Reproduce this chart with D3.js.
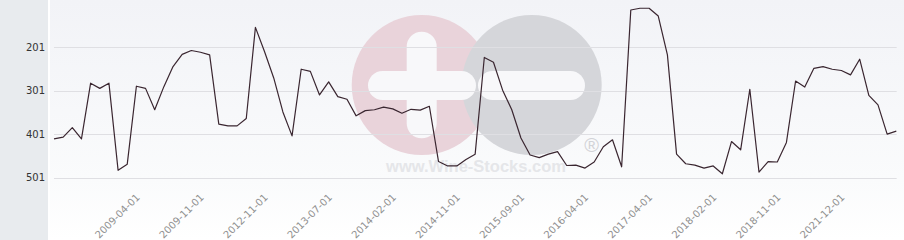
<!DOCTYPE html>
<html>
<head>
<meta charset="utf-8">
<title>rank chart</title>
<style>
    body { margin: 0; background: #fff; }
    svg text { font-family: "DejaVu Sans", sans-serif; }
</style>
</head>
<body>
<div class="chart-container"></div>
<script src="https://cdn.jsdelivr.net/npm/d3@7"></script>
<script>
    // rank values, one per period (lower rank is drawn higher)
    var ranks = [
        412, 408, 386, 412, 284, 296, 284, 484, 470, 291,
        296, 345, 292, 246, 218, 209, 213, 219, 378, 382,
        382, 365, 156, 212, 272, 350, 405, 252, 257, 311,
        281, 315, 321, 359, 347, 345, 339, 343, 353, 344,
        346, 337, 464, 474, 474, 459, 447, 225, 236, 300,
        345, 410, 449, 455, 447, 441, 473, 472, 479, 465,
        430, 414, 476, 116, 112, 112, 130, 219, 447, 469,
        472, 479, 474, 492, 418, 437, 298, 488, 464, 465,
        420, 279, 293, 250, 246, 252, 255, 265, 229, 312,
        334, 401, 394
    ];

    // labelled periods on the x axis and where they sit in the series
    var tickLabels = ['2009-04-01', '2009-11-01', '2012-11-01', '2013-07-01',
        '2014-02-01', '2014-11-01', '2015-09-01', '2016-04-01',
        '2017-04-01', '2018-02-01', '2018-11-01', '2021-12-01'];
    var tickIndex = [9, 16, 23, 30, 37, 44, 51, 58, 65, 72, 79, 86];

    var yTicks = [201, 301, 401, 501];

    var width = 904, height = 240;

    var x = d3.scalePoint()
            .domain(d3.range(ranks.length))
            .range([54, 896.3]);

    var y = d3.scaleLinear()
            .domain([201, 501])
            .range([47, 177.7]);

    var svg = d3.select('.chart-container').append('svg')
            .attr('width', width)
            .attr('height', height);

    var defs = svg.append('defs');
    var grad = defs.append('linearGradient')
            .attr('id', 'plot-bg')
            .attr('x1', 0).attr('y1', 0).attr('x2', 0).attr('y2', 1);
    grad.append('stop').attr('offset', '0%').attr('stop-color', '#f2f3f7');
    grad.append('stop').attr('offset', '75%').attr('stop-color', '#fafbfc');
    grad.append('stop').attr('offset', '100%').attr('stop-color', '#ffffff');

    // backgrounds
    svg.append('rect')
            .attr('width', 48).attr('height', height)
            .style('fill', '#e8ebee');
    svg.append('rect')
            .attr('x', 50).attr('width', width - 50).attr('height', height)
            .style('fill', 'url(#plot-bg)');

    // watermark
    var wm = svg.append('g').attr('class', 'watermark');
    wm.append('circle')
            .attr('cx', 421.7).attr('cy', 85).attr('r', 70)
            .style('fill', '#e9d3da');
    wm.append('circle')
            .attr('cx', 531.7).attr('cy', 85).attr('r', 70)
            .style('fill', '#d5d6da');
    wm.append('rect')
            .attr('x', 406.7).attr('y', 31.7).attr('width', 30).attr('height', 106.6)
            .attr('rx', 15)
            .style('fill', '#f8f8fa');
    wm.append('rect')
            .attr('x', 368).attr('y', 71).attr('width', 108).attr('height', 29)
            .attr('rx', 14.5)
            .style('fill', '#f8f8fa');
    wm.append('rect')
            .attr('x', 478).attr('y', 71).attr('width', 107).attr('height', 29)
            .attr('rx', 14.5)
            .style('fill', '#f8f8fa');
    wm.append('text')
            .attr('x', 476).attr('y', 172)
            .attr('text-anchor', 'middle')
            .style('font-family', '"Liberation Sans", Arial, sans-serif')
            .style('font-weight', 'bold')
            .style('font-size', '16.5px')
            .style('fill', '#e5e6e9')
            .text('www.Wine-Stocks.com');
    wm.append('text')
            .attr('x', 591.7).attr('y', 152)
            .attr('text-anchor', 'middle')
            .style('font-family', '"Liberation Sans", Arial, sans-serif')
            .style('font-size', '20px')
            .style('fill', '#d2d3d7')
            .text('\u00ae');

    // grid lines
    svg.append('g')
            .attr('class', 'grid')
            .selectAll('line')
            .data(yTicks)
            .enter().append('line')
            .attr('x1', 54).attr('x2', 896.7)
            .attr('y1', function (d) { return Math.round(y(d)) + 0.5; })
            .attr('y2', function (d) { return Math.round(y(d)) + 0.5; })
            .style('stroke', '#dfdfe3')
            .style('stroke-width', 1);

    // y axis labels
    var yAxis = d3.axisLeft(y)
            .tickValues(yTicks)
            .tickSize(0)
            .tickPadding(0);
    svg.append('g')
            .attr('transform', 'translate(45,0)')
            .call(yAxis)
            .call(function (g) { g.select('.domain').remove(); })
            .selectAll('text')
            .style('font-family', '"DejaVu Sans", sans-serif')
            .style('font-size', '10px')
            .style('fill', '#333');

    // x axis labels, rotated
    svg.append('g')
            .attr('class', 'x-labels')
            .selectAll('text')
            .data(tickIndex)
            .enter().append('text')
            .attr('transform', function (d) {
                return 'translate(' + (x(d) + 4) + ',198) rotate(-45)';
            })
            .attr('text-anchor', 'end')
            .style('font-size', '10px')
            .style('fill', '#909090')
            .text(function (d, i) { return tickLabels[i]; });

    // rank line
    var line = d3.line()
            .x(function (d, i) { return x(i); })
            .y(function (d) { return y(d); });

    svg.append('path')
            .datum(ranks)
            .attr('d', line)
            .style('fill', 'none')
            .style('stroke', '#3a2630')
            .style('stroke-width', 1.2)
            .style('stroke-linejoin', 'round');
</script>
</body>
</html>
